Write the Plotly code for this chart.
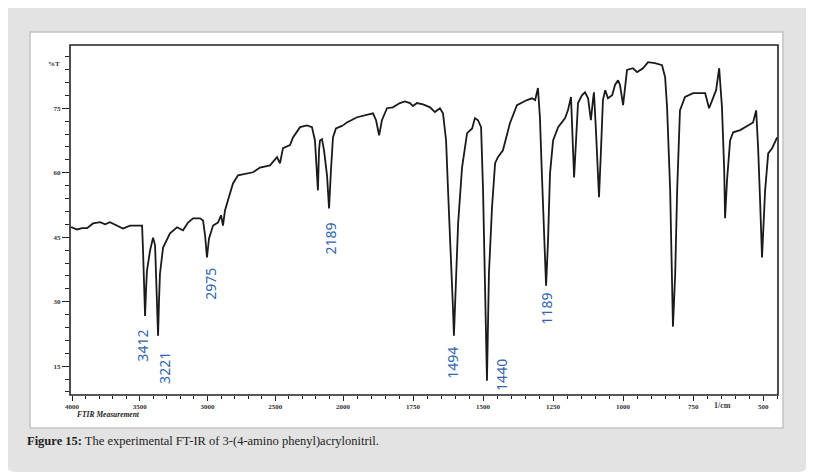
import plotly.graph_objects as go

# FT-IR spectrum (wavenumber in 1/cm, transmittance in %T)
numero_onda = [
    4015, 4000, 3963, 3926, 3889, 3845, 3793, 3756, 3720, 3668, 3624, 3572, 3520, 3483,
    3476, 3469, 3461, 3454, 3447, 3424, 3402, 3387, 3373, 3365, 3358, 3351, 3328, 3277,
    3225, 3181, 3144, 3107, 3055, 3033, 3018, 3004, 2989, 2959, 2923, 2900, 2886, 2871,
    2849, 2812, 2775, 2701, 2664, 2613, 2539, 2487, 2465, 2443, 2391, 2369, 2317, 2266,
    2229, 2207, 2192, 2185, 2177, 2170, 2155, 2140, 2118, 2103, 2089, 2074, 2052, 2022,
    2000,
    1986, 1950, 1914, 1893, 1882, 1871, 1861, 1843, 1822, 1797, 1779, 1761, 1750, 1736,
    1714, 1689, 1672, 1654, 1643, 1632, 1625, 1614, 1607, 1604, 1597, 1589, 1575, 1557,
    1539, 1529, 1518, 1507, 1500, 1493, 1486, 1479, 1468, 1457, 1447, 1429, 1404, 1379,
    1361, 1343, 1325, 1314, 1304, 1297, 1290, 1282, 1275, 1268, 1261, 1250, 1232, 1207,
    1197, 1186, 1182, 1175, 1168, 1161, 1147, 1136, 1125, 1115, 1107, 1104, 1097, 1086,
    1079, 1072, 1064, 1054, 1039, 1029, 1018, 1011, 1000, 986, 965, 950, 929, 911, 886,
    861, 850, 843, 832, 825, 822, 814, 807, 797, 779, 750, 707, 693, 679, 668, 657, 647,
    639, 636, 629, 618, 607, 582, 554, 536, 525, 518, 511, 504, 493, 482, 468, 457, 450,
]
transmitancia = [
    47.3, 47.3, 46.8, 47.1, 47.1, 48.2, 48.5, 48.0, 48.5, 47.7, 47.0, 47.7, 47.7, 47.7,
    41.9, 34.2, 26.7, 32.6, 37.2, 41.9, 44.9, 43.1, 30.2, 22.1, 30.2, 36.5, 42.6, 45.9,
    47.3, 46.6, 48.4, 49.4, 49.4, 48.9, 45.4, 40.3, 44.7, 47.7, 48.4, 50.1, 47.7, 51.2,
    53.6, 57.5, 59.4, 59.8, 60.1, 61.2, 61.7, 63.6, 62.2, 65.7, 66.4, 68.2, 70.6, 71.0,
    70.6, 67.5, 60.5, 55.9, 65.2, 67.5, 67.8, 65.2, 59.4, 51.7, 60.5, 68.2, 70.3, 70.6,
    71.0,
    71.7, 72.9, 73.4, 73.8, 72.2, 68.7, 72.2, 75.0, 75.2, 76.2, 76.6, 76.2, 75.5, 76.2,
    75.9, 75.2, 74.1, 75.0, 73.8, 67.5, 55.9, 40.3, 27.9, 22.1, 32.6, 48.2, 61.2, 69.2,
    70.3, 72.7, 72.2, 70.6, 55.9, 36.5, 11.6, 36.5, 51.9, 62.2, 63.6, 65.2, 71.5, 75.7,
    76.4, 76.9, 77.3, 76.9, 79.7, 72.9, 59.8, 44.2, 33.7, 44.2, 59.8, 67.5, 70.6, 72.7,
    74.5, 77.6, 69.9, 58.9, 67.5, 76.2, 78.0, 78.7, 77.3, 72.2, 77.3, 78.7, 69.9, 54.3,
    65.2, 76.9, 79.2, 77.3, 78.0, 80.4, 81.5, 80.4, 75.7, 83.9, 84.3, 83.4, 84.3, 85.7, 85.5,
    85.0, 82.2, 75.2, 55.9, 36.5, 24.2, 36.5, 55.9, 74.5, 77.6, 78.5, 78.5, 75.0, 77.3, 79.2, 84.3, 75.2,
    60.5, 49.4, 58.2, 67.5, 69.4, 69.9, 71.0, 71.7, 74.5, 65.9, 53.6, 40.3, 55.9, 64.5, 65.7, 67.5, 68.2,
]

# picos marcados na figura: texto, posicao (cm-1, %T)
picos_texto = ['3412', '3221', '2975', '2189', '1494', '1440', '1189']
picos_x = [3483, 3314, 2974, 2089, 1607, 1432, 1275]
picos_y = [19.8, 14.6, 34.2, 44.7, 15.8, 13.0, 28.4]

ticks_alto = [4000, 3500, 3000, 2500, 2000]
ticks_baixo = [1750, 1500, 1250, 1000, 750, 500]

# the instrument changes scale at 2000 cm-1, so two x axes side by side
alto_x = [w for w in numero_onda if w >= 2000]
alto_y = [t for w, t in zip(numero_onda, transmitancia) if w >= 2000]
baixo_x = [w for w in numero_onda if w <= 2000]
baixo_y = [t for w, t in zip(numero_onda, transmitancia) if w <= 2000]

# page body has an 8px margin, so the figure is laid out 8px smaller
OFF = 8
L, R, T, B = 70, 778, 45, 395
W, H = 814 - OFF, 476 - OFF
corte = (343 - L) / (R - L)


def px(x):
    return (x - L) / (R - L)


def py(y):
    return (B - y) / (B - T)


linha = dict(color='#1a1a1a', width=1.8)
fig = go.Figure()
fig.add_trace(go.Scatter(x=alto_x, y=alto_y, mode='lines', line=linha, xaxis='x', yaxis='y', hoverinfo='skip'))
fig.add_trace(go.Scatter(x=baixo_x, y=baixo_y, mode='lines', line=linha, xaxis='x2', yaxis='y', hoverinfo='skip'))

fonte_tick = dict(family='Liberation Serif', size=7, color='#333', weight='bold')
eixo_x = dict(showgrid=False, zeroline=False, showline=False, ticks='outside', ticklen=5,
              tickcolor='#222', tickwidth=1.3, tickfont=fonte_tick, anchor='y')

fig.update_layout(
    width=W, height=H,
    margin=dict(l=L - OFF, r=W - (R - OFF), t=T - OFF, b=H - (B - OFF)),
    paper_bgcolor='white', plot_bgcolor='rgba(0,0,0,0)',
    showlegend=False,
    xaxis=dict(eixo_x, domain=[0, corte], range=[4015, 2000], tickmode='array', tickvals=ticks_alto,
               minor=dict(tickmode='linear', tick0=0, dtick=100, ticks='outside', ticklen=3, tickcolor='#222')),
    xaxis2=dict(eixo_x, domain=[corte, 1], range=[2000, 447], tickmode='array', tickvals=ticks_baixo,
                minor=dict(tickmode='linear', tick0=0, dtick=50, ticks='outside', ticklen=3, tickcolor='#222')),
    yaxis=dict(range=[8.3, 89.7], showgrid=False, zeroline=False, showline=False, ticks='outside',
               ticklen=7, tickcolor='#222', tickwidth=1.3, tickmode='linear', tick0=0, dtick=15,
               tickfont=fonte_tick, anchor='x',
               minor=dict(tickmode='linear', tick0=0, dtick=3, ticks='outside', ticklen=4, tickcolor='#222')),
)

# fundo cinza arredondado, painel branco e moldura do grafico
x0, x1, y0, y1 = px(6), px(808), py(472), py(4)
rx, ry = 10 / (R - L), 10 / (B - T)
caminho = (f'M {x0 + rx} {y0} L {x1 - rx} {y0} Q {x1} {y0} {x1} {y0 + ry} '
           f'L {x1} {y1 - ry} Q {x1} {y1} {x1 - rx} {y1} L {x0 + rx} {y1} '
           f'Q {x0} {y1} {x0} {y1 - ry} L {x0} {y0 + ry} Q {x0} {y0} {x0 + rx} {y0} Z')
fig.add_shape(type='path', path=caminho, xref='paper', yref='paper',
              fillcolor='#e3e3e3', line=dict(width=0), layer='below')
fig.add_shape(type='rect', xref='paper', yref='paper', x0=px(30), x1=px(783), y0=py(428), y1=py(32),
              fillcolor='white', line=dict(color='#c4c4c4', width=1.5), layer='below')
fig.add_shape(type='rect', xref='paper', yref='paper', x0=0, x1=1, y0=0, y1=1,
              line=dict(color='#222', width=1.6), layer='above')

for texto, x, y, eixo in zip(picos_texto, picos_x, picos_y, ['x', 'x', 'x', 'x', 'x2', 'x2', 'x2']):
    fig.add_annotation(x=x, y=y, xref=eixo, yref='y', text=texto, textangle=-90, showarrow=False,
                       font=dict(family='Noto Sans', size=14, color='#3566ad'))

fig.add_annotation(x=px(46), y=py(58), xref='paper', yref='paper', text='<b>%T</b>', showarrow=False,
                   font=dict(family='Liberation Serif', size=7, color='#333'))
fig.add_annotation(x=px(75), y=py(421), xref='paper', yref='paper', xanchor='left',
                   text='<b><i>FTIR Measurement</i></b>', showarrow=False,
                   font=dict(family='Liberation Serif', size=7.5, color='#222'))
fig.add_annotation(x=px(733), y=py(412), xref='paper', yref='paper', text='<b>1/cm</b>', showarrow=False,
                   font=dict(family='Liberation Serif', size=8, color='#333'))
fig.add_annotation(x=px(25), y=py(450), xref='paper', yref='paper', xanchor='left',
                   text='<b>Figure 15:</b> The experimental FT-IR of 3-(4-amino phenyl)acrylonitril.',
                   showarrow=False, font=dict(family='Liberation Serif', size=12.5, color='#222'))

fig.write_html("out.html")
